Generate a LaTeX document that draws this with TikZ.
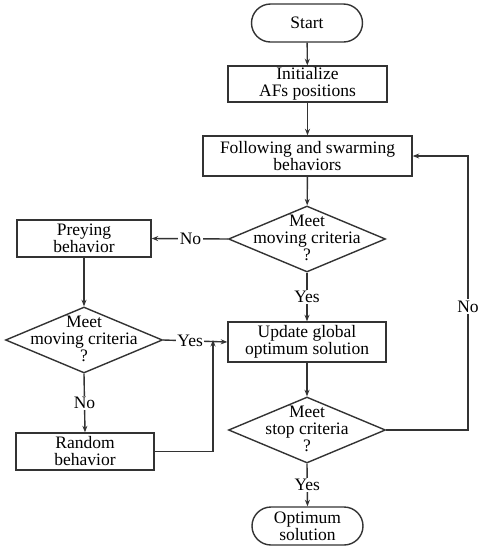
\documentclass[tikz,border=0pt]{standalone}
\usepackage{fontspec}
\setmainfont{Liberation Serif}
\usetikzlibrary{shapes.geometric,arrows.meta}
\begin{document}
\begin{tikzpicture}[x=1pt,y=-1pt,
  every node/.style={font=\rmfamily\fontsize{17.5}{17}\selectfont, text=black},
  ln/.style={draw=black!80, line width=1.4pt},
  arr/.style={ln, -{Stealth[length=6.5pt,width=5pt]}},
  box/.style={ln, rectangle, inner sep=0pt, align=center},
  term/.style={ln, rectangle, rounded corners=19pt, inner sep=0pt, align=center, minimum width=111pt, minimum height=38pt},
  dia/.style={ln, diamond, inner sep=0pt, minimum width=157pt, minimum height=66pt},
  dtext/.style={align=center, inner sep=0pt},
  lbl/.style={fill=white, inner sep=1.5pt}
]
\useasboundingbox[fill=white] (0,0) rectangle (483,550);

% nodes
\node[term] (start) at (307,23) {Start};
\node[box, minimum width=159pt, minimum height=36pt] (init) at (307.5,84) {Initialize\\AFs positions};
\node[box, minimum width=209pt, minimum height=40pt] (follow) at (307.5,156) {Following and swarming\\behaviors};
\node[dia] (d1) at (307,239) {};
\node[dtext] (d1t) at (307,238) {Meet\\moving criteria\\?};
\node[box, minimum width=134pt, minimum height=37pt] (prey) at (84,238.5) {Preying\\behavior};
\node[dia] (d2) at (84,340) {};
\node[dtext] (d2t) at (84,339) {Meet\\moving criteria\\?};
\node[box, minimum width=138pt, minimum height=37pt] (random) at (85,451.5) {Random\\behavior};
\node[box, minimum width=158pt, minimum height=40pt] (update) at (307,342) {Update global\\optimum solution};
\node[dia] (d3) at (307,430) {};
\node[dtext] (d3t) at (307,429) {Meet\\stop criteria\\?};
\node[term] (opt) at (307.5,526) {Optimum\\solution};

\coordinate (j) at (213,340);
\coordinate (r1) at (468,430);
\coordinate (r2) at (468,156);

% connectors
\draw[arr] (start) -- (init);
\draw[arr] (init) -- (follow);
\draw[arr] (follow) -- (d1);
\draw[arr] (d1.west) -- node[lbl, pos=0.49]{No} (prey.east);
\draw[arr] (d1.south) -- node[lbl]{Yes} (update.north);
\draw[arr] (prey) -- (d2);
\draw[arr] (d2.south) -- node[lbl]{No} (random.north);
\draw[arr] (d2.east) -- node[lbl, pos=0.42]{Yes} (update.west);
\draw[arr] (random.east) -| (j);
\draw[arr] (d3.south) -- node[lbl]{Yes} (opt.north);
\draw[arr] (update) -- (d3);
\draw[arr] (d3.east) -- (r1) -- node[lbl, pos=0.45]{No} (r2) -- (follow.east);
\end{tikzpicture}
\end{document}
